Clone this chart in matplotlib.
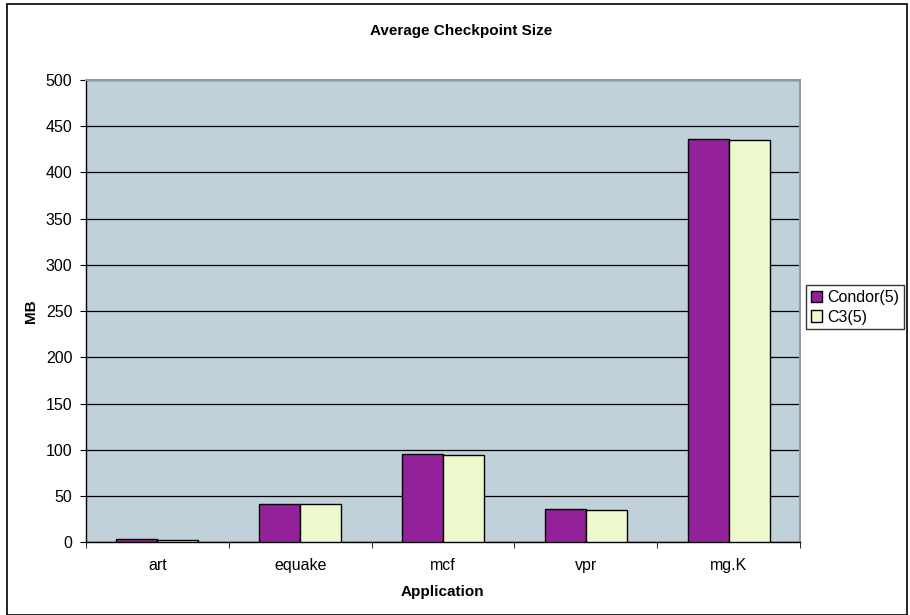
import matplotlib
matplotlib.use("Agg")
import matplotlib.pyplot as plt
from matplotlib.patches import Rectangle
import numpy as np

plt.rcParams['font.family'] = ['Liberation Sans', 'DejaVu Sans']

applications = ["art", "equake", "mcf", "vpr", "mg.K"]
condor_mb = [3.9, 41.7, 95.5, 36.0, 435.9]
c3_mb = [2.8, 41.1, 94.7, 35.0, 435.4]
series_names = ["Condor(5)", "C3(5)"]
y_ticks = [0, 50, 100, 150, 200, 250, 300, 350, 400, 450, 500]

W, H = 910, 615
fig = plt.figure(figsize=(W / 100, H / 100), dpi=100)
fig.patch.set_facecolor("white")

# outer chart frame
fig.add_artist(Rectangle((7 / W, 0.5 / H), 900 / W, (H - 4.5) / H,
                         transform=fig.transFigure, fill=False,
                         edgecolor="black", linewidth=1.2))

ax = fig.add_axes([86 / W, 1 - 542.3 / H, (800 - 86) / W, (542.3 - 80) / H])
ax.set_facecolor("#C0D1D9")

x = np.arange(len(applications))
w = 0.287
ax.bar(x - w / 2, condor_mb, width=w, color="#92219A", edgecolor="black",
       linewidth=1.0, label=series_names[0], zorder=3)
ax.bar(x + w / 2, c3_mb, width=w, color="#EEF8CD", edgecolor="black",
       linewidth=1.0, label=series_names[1], zorder=3)

ax.set_xlim(-0.5, len(applications) - 0.5)
ax.set_ylim(0, 500)
ax.set_yticks(y_ticks)
ax.set_yticklabels([str(v) for v in y_ticks], fontsize=11.5)
ax.yaxis.grid(True, color="black", linewidth=0.9, zorder=1)
ax.set_axisbelow(True)

# category labels centered, tick marks between categories
ax.set_xticks(x)
ax.set_xticklabels(applications, fontsize=11.5)
ax.tick_params(axis="x", length=0, pad=11.5)
ax.set_xticks(np.arange(-0.5, len(applications)), minor=True)
ax.tick_params(axis="x", which="minor", length=4.3, direction="out", color="black")
ax.tick_params(axis="y", length=4.3, direction="out", color="black", pad=5.5)

for side in ["left", "bottom"]:
    ax.spines[side].set_color("black")
    ax.spines[side].set_linewidth(1.0)
for side in ["top", "right"]:
    ax.spines[side].set_color("#8A9EA6")
    ax.spines[side].set_linewidth(1.5)

fig.text(442 / W, 1 - 592 / H, "Application", ha="center", va="center",
         fontsize=11, fontweight="bold")
fig.text(30.5 / W, 1 - 311 / H, "MB", ha="center", va="center",
         rotation=90, fontsize=11, fontweight="bold")
fig.text(461 / W, 1 - 31 / H, "Average Checkpoint Size", ha="center",
         va="center", fontsize=11, fontweight="bold")

leg = fig.legend(loc="upper left", bbox_to_anchor=(806 / W, 1 - 285 / H),
                 fontsize=11.5, frameon=True, fancybox=False, handlelength=0.7,
                 handleheight=0.7, handletextpad=0.3, borderpad=0.3,
                 labelspacing=0.3, borderaxespad=0)
leg.get_frame().set_edgecolor("black")
leg.get_frame().set_linewidth(1.0)

fig.savefig("out.png", dpi=100, facecolor="white")
